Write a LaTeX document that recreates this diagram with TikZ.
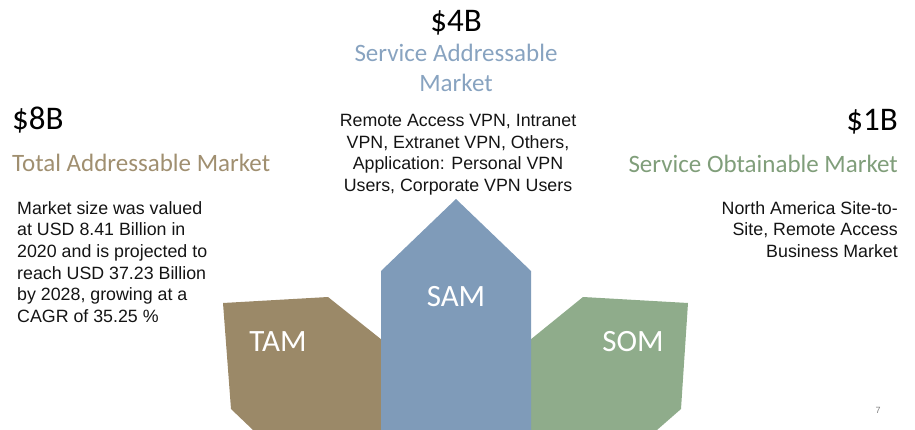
\documentclass[tikz,border=0pt]{standalone}
\usepackage{fontspec}
\setmainfont{Carlito}
\newfontfamily\bodyfont{Liberation Sans}
\definecolor{tamc}{RGB}{155,137,104}
\definecolor{samc}{RGB}{127,155,185}
\definecolor{somc}{RGB}{143,172,139}
\definecolor{tamt}{RGB}{160,143,112}
\definecolor{samt}{RGB}{136,163,192}
\definecolor{somt}{RGB}{128,158,122}
\definecolor{bodyt}{RGB}{20,20,20}
\tikzset{
  money/.style={inner sep=0pt, font={\fontsize{33}{36}\selectfont}, text=black},
  mtitle/.style={inner sep=0pt, font={\fontsize{25}{30}\selectfont}},
  body/.style={inner sep=0pt, font={\bodyfont\fontsize{17.8}{21.7}\selectfont}, text=bodyt},
  shapelabel/.style={inner sep=0pt, font={\fontsize{31}{34}\selectfont}, text=white},
  block/.style={draw=none}
}
\begin{document}
\begin{tikzpicture}[x=1pt,y=-1pt]
\useasboundingbox (0,0) rectangle (915,430);
% shapes
\fill[tamc] (223,303) -- (328,297) -- (382,340) -- (382,430) -- (253,430) -- (231,409) -- cycle;
\fill[somc] (688,303) -- (583,297) -- (530,340) -- (530,430) -- (657,430) -- (681,409) -- cycle;
\fill[samc] (381,430) -- (381,271) -- (456,199) -- (531,271) -- (531,430) -- cycle;
\node[shapelabel] (tamlbl) at (278,342) {TAM};
\node[shapelabel] (samlbl) at (456,297) {SAM};
\node[shapelabel] (somlbl) at (633,342) {SOM};
% left
\node[money, anchor=base west] (tamv) at (12,130) {\$8B};
\node[mtitle, text=tamt, anchor=base west] (tamt) at (12,172) {Total Addressable Market};
\node[body, anchor=north west, align=left] (tamb) at (17,201) {Market size was valued\\at USD 8.41 Billion in\\2020 and is projected to\\reach USD 37.23 Billion\\by 2028, growing at a\\CAGR of 35.25 \%};
% centre
\node[money, anchor=base] (samv) at (456,32) {\$4B};
\node[mtitle, text=samt, anchor=base, align=center] (samt1) at (456,62) {Service Addressable};
\node[mtitle, text=samt, anchor=base] (samt2) at (456,92) {Market};
\node[body, anchor=north, align=center] (samb) at (458,114) {Remote Access VPN, Intranet\\VPN, Extranet VPN, Others,\\Application: Personal VPN\\Users, Corporate VPN Users};
% right
\node[money, anchor=base east] (somv) at (898,131) {\$1B};
\node[mtitle, text=somt, anchor=base east] (somt) at (898,173) {Service Obtainable Market};
\node[body, anchor=north east, align=right] (somb) at (898,201) {North America Site-to-\\Site, Remote Access\\Business Market};
% page number
\node[inner sep=0pt, font={\bodyfont\fontsize{9}{10}\selectfont}, text=gray] (pg) at (878,410) {7};
\end{tikzpicture}
\end{document}
